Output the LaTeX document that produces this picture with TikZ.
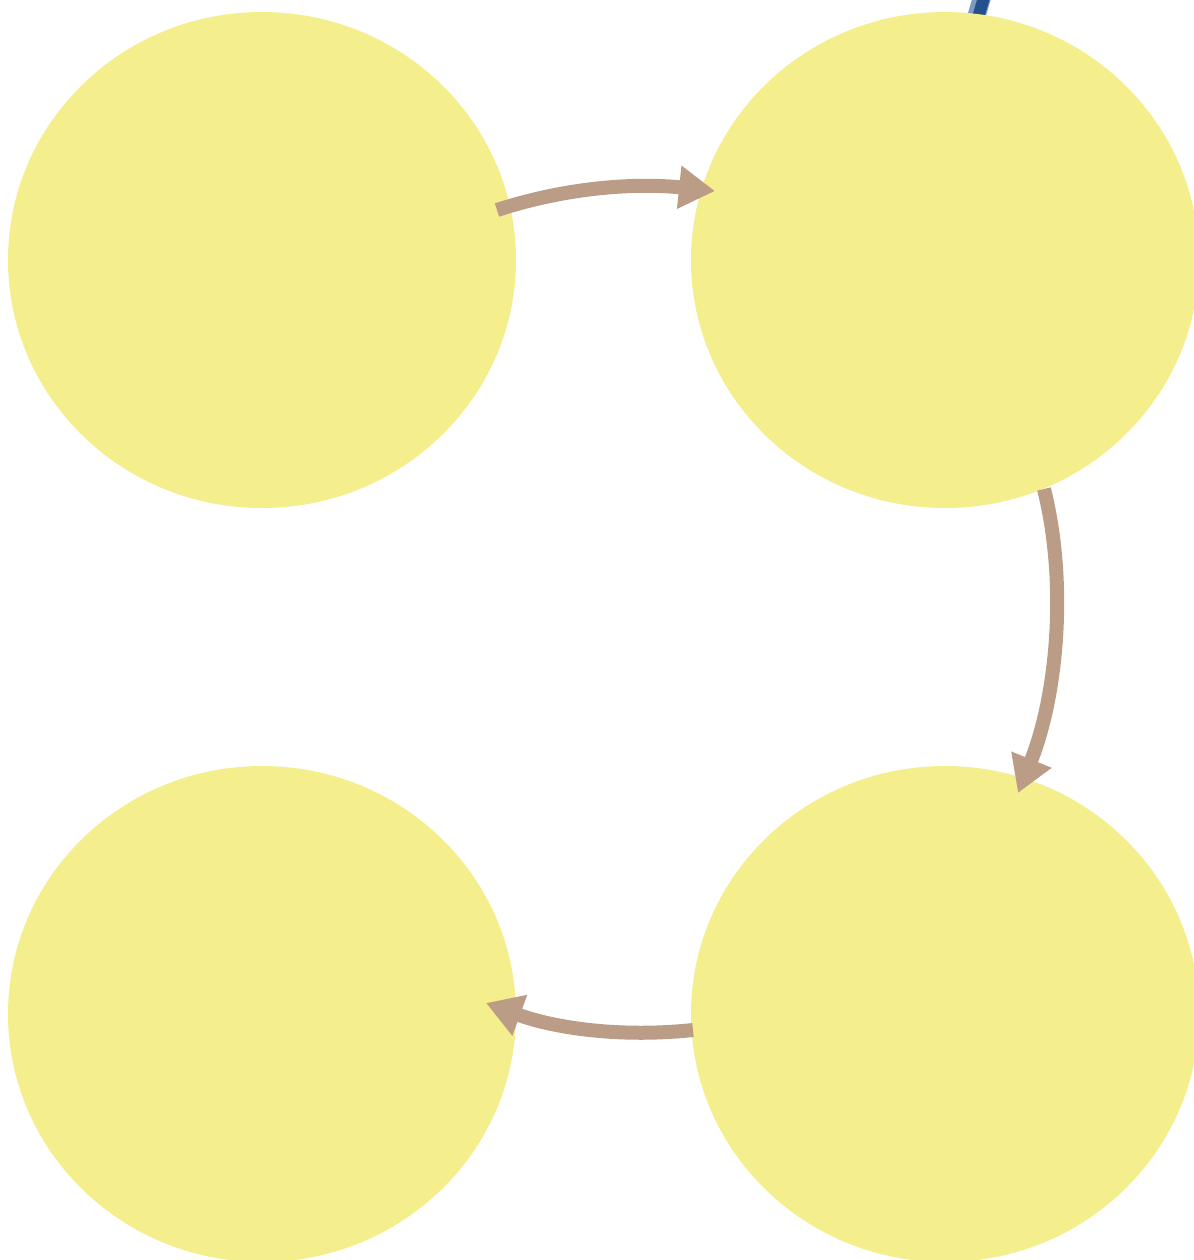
\documentclass[tikz,border=0pt]{standalone}
\usetikzlibrary{arrows.meta,shapes.geometric,calc}
\definecolor{stagefill}{HTML}{F4EE8D}
\definecolor{flowtan}{HTML}{BB9D87}
\definecolor{linkblue}{HTML}{24508C}
\definecolor{linkedge}{HTML}{7D9AC0}
\begin{document}
\begin{tikzpicture}[
  stage/.style={ellipse, fill=stagefill, draw=none, inner sep=0pt,
                minimum width=5.08cm, minimum height=4.96cm},
  flow/.style={flowtan, line width=1.4mm, -{Triangle[length=3.6mm, width=4.1mm]}}
]
  \useasboundingbox (0,0) rectangle (11.94,-12.60);

  % stray link behind the top right stage
  \coordinate (linktop) at (9.90,0.30);
  \coordinate (linkend) at (9.68,-0.45);
  \draw[linkedge, line width=1.8mm] (linktop) -- (linkend);
  \draw[linkblue, line width=1.2mm] ([xshift=0.2mm]linktop) -- ([xshift=0.2mm]linkend);

  \node[stage] (tl) at (2.62,-2.60) {};
  \node[stage] (tr) at (9.45,-2.60) {};
  \node[stage] (bl) at (2.62,-10.14) {};
  \node[stage] (br) at (9.45,-10.14) {};

  % arrow ends sit a little inside the stages
  \coordinate (tlout) at ($(tl)+(2.35,0.50)$);
  \coordinate (trin)  at ($(tr)+(-2.30,0.69)$);
  \coordinate (trout) at ($(tr)+(0.99,-2.29)$);
  \coordinate (brin)  at ($(br)+(0.73,2.21)$);
  \coordinate (brout) at ($(br)+(-2.52,-0.16)$);
  \coordinate (blin)  at ($(bl)+(2.24,0.11)$);

  \draw[flow] (tlout) to[out=18, in=174, looseness=0.9] (trin);
  \draw[flow] (trout) to[out=-76, in=68, looseness=0.85] (brin);
  \draw[flow] (brout) to[out=186, in=-20, looseness=0.9] (blin);
\end{tikzpicture}
\end{document}
